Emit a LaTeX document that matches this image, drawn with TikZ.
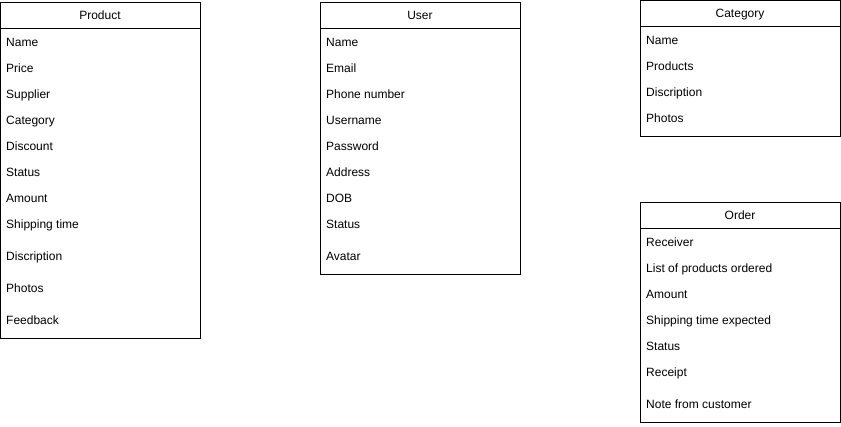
\documentclass[tikz,border=0pt]{standalone}
\usepackage{fontspec}
\setmainfont{Liberation Sans}

\begin{document}
\begin{tikzpicture}[x=1pt,y=-1pt,
  entity/.style={draw,line width=0.8pt,minimum width=200pt,anchor=north west,inner sep=0pt},
  head/.style={font=\fontsize{12}{14}\selectfont,anchor=base,inner sep=0pt},
  field/.style={font=\fontsize{12}{14}\selectfont,anchor=base west,inner sep=0pt}]
\useasboundingbox (0,0) rectangle (841,426);

% Product
\node [entity,minimum height=336pt] (product) at (0,2) {};
\node [head] (product-t) at (100,19.5) {Product};
\draw ([yshift=-26pt]product.north west) -- ([yshift=-26pt]product.north east);
\foreach \txt/\y [count=\i] in {Name/42,Price/68,Supplier/94,Category/120,
  Discount/146,Status/172,Amount/198,Shipping time/224,Discription/256,
  Photos/288,Feedback/320}
  \node [field] (product-\i) at (6,\y+4.5) {\txt};

% User
\node [entity,minimum height=272pt] (user) at (320,2) {};
\node [head] (user-t) at (420,19.5) {User};
\draw ([yshift=-26pt]user.north west) -- ([yshift=-26pt]user.north east);
\foreach \txt/\y [count=\i] in {Name/42,Email/68,Phone number/94,Username/120,
  Password/146,Address/172,DOB/198,Status/224,Avatar/256}
  \node [field] (user-\i) at (326,\y+4.5) {\txt};

% Category
\node [entity,minimum height=136pt] (category) at (640,0.4) {};
\node [head] (category-t) at (740,17.5) {Category};
\draw ([yshift=-26pt]category.north west) -- ([yshift=-26pt]category.north east);
\foreach \txt/\y [count=\i] in {Name/40,Products/66,Discription/92,Photos/118}
  \node [field] (category-\i) at (646,\y+4.5) {\txt};

% Order
\node [entity,minimum height=220pt] (order) at (640,202) {};
\node [head] (order-t) at (740,219.5) {Order};
\draw ([yshift=-26pt]order.north west) -- ([yshift=-26pt]order.north east);
\foreach \txt/\y [count=\i] in {Receiver/242,List of products ordered/268,
  Amount/294,Shipping time expected/320,Status/346,Receipt/372,
  Note from customer/404}
  \node [field] (order-\i) at (646,\y+4.5) {\txt};

\end{tikzpicture}
\end{document}
